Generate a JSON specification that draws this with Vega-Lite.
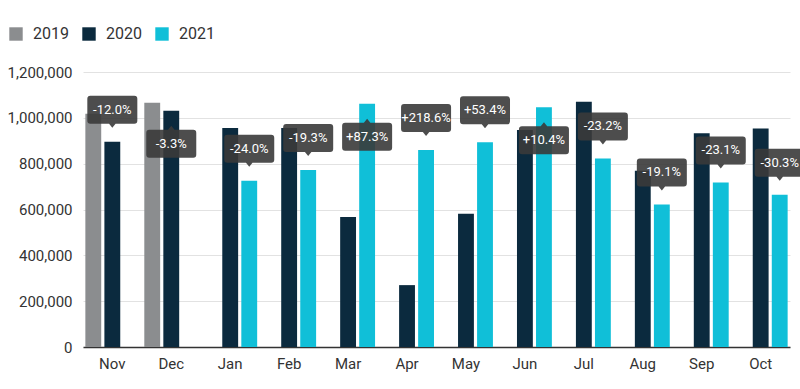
{
  "$schema": "https://vega.github.io/schema/vega-lite/v6.json",
  "width": 707,
  "height": 275,
  "autosize": {"type": "none"},
  "padding": {"left": 83, "top": 72, "right": 10, "bottom": 42},
  "background": "white",
  "config": {
    "font": "Roboto",
    "view": {"stroke": null}
  },
  "data": {
    "values": [
      {"month": "Nov", "year": "2019", "value": 1018000},
      {"month": "Nov", "year": "2020", "value": 896000, "label": "-12.0%"},
      {"month": "Dec", "year": "2019", "value": 1066000},
      {"month": "Dec", "year": "2020", "value": 1031000, "label": "-3.3%"},
      {"month": "Jan", "year": "2020", "value": 956000},
      {"month": "Jan", "year": "2021", "value": 726000, "label": "-24.0%"},
      {"month": "Feb", "year": "2020", "value": 956000},
      {"month": "Feb", "year": "2021", "value": 772000, "label": "-19.3%"},
      {"month": "Mar", "year": "2020", "value": 567000},
      {"month": "Mar", "year": "2021", "value": 1062000, "label": "+87.3%"},
      {"month": "Apr", "year": "2020", "value": 270000},
      {"month": "Apr", "year": "2021", "value": 860000, "label": "+218.6%"},
      {"month": "May", "year": "2020", "value": 582000},
      {"month": "May", "year": "2021", "value": 893000, "label": "+53.4%"},
      {"month": "Jun", "year": "2020", "value": 947000},
      {"month": "Jun", "year": "2021", "value": 1046000, "label": "+10.4%"},
      {"month": "Jul", "year": "2020", "value": 1070000},
      {"month": "Jul", "year": "2021", "value": 823000, "label": "-23.2%"},
      {"month": "Aug", "year": "2020", "value": 769000},
      {"month": "Aug", "year": "2021", "value": 622000, "label": "-19.1%"},
      {"month": "Sep", "year": "2020", "value": 933000},
      {"month": "Sep", "year": "2021", "value": 718000, "label": "-23.1%"},
      {"month": "Oct", "year": "2020", "value": 954000},
      {"month": "Oct", "year": "2021", "value": 664000, "label": "-30.3%"}
    ]
  },
  "encoding": {
    "x": {
      "field": "month",
      "type": "nominal",
      "sort": ["Nov", "Dec", "Jan", "Feb", "Mar", "Apr", "May", "Jun", "Jul", "Aug", "Sep", "Oct"],
      "scale": {"paddingInner": 0.085, "paddingOuter": 0.04},
      "axis": {
        "title": null,
        "labelAngle": 0,
        "ticks": false,
        "domainColor": "#333333",
        "domainWidth": 1.5,
        "labelFontSize": 15,
        "labelColor": "#333333",
        "labelPadding": 9
      }
    },
    "xOffset": {
      "field": "year",
      "type": "nominal",
      "sort": ["2019", "2020", "2021"],
      "scale": {"paddingInner": 0.167, "paddingOuter": 0}
    },
    "y": {
      "field": "value",
      "type": "quantitative",
      "scale": {"domain": [0, 1200000]},
      "axis": {
        "title": null,
        "values": [0, 200000, 400000, 600000, 800000, 1000000, 1200000],
        "format": ",d",
        "domain": false,
        "ticks": false,
        "gridColor": "#e2e2e2",
        "labelFontSize": 15,
        "labelColor": "#333333",
        "labelPadding": 11
      }
    }
  },
  "layer": [
    {
      "mark": {"type": "bar"},
      "encoding": {
        "color": {
          "field": "year",
          "type": "nominal",
          "scale": {"domain": ["2019", "2020", "2021"], "range": ["#8b8d8f", "#0b2a3e", "#10bfd8"]},
          "legend": {
            "title": null,
            "orient": "none",
            "legendX": -75,
            "legendY": -46,
            "direction": "horizontal",
            "symbolType": "square",
            "symbolSize": 180,
            "symbolStrokeWidth": 0,
            "labelFontSize": 16,
            "labelColor": "#333333",
            "labelOffset": 9,
            "columnPadding": 12
          }
        }
      }
    },
    {
      "transform": [{"filter": "isValid(datum.label) && datum.value <= 1000000"}],
      "mark": {
        "type": "point",
        "shape": "M-0.88,-0.56H0.88Q1,-0.56 1,-0.44V0.44Q1,0.56 0.88,0.56H0.13L0,0.72L-0.13,0.56H-0.88Q-1,0.56 -1,0.44V-0.44Q-1,-0.56 -0.88,-0.56Z",
        "size": 2500,
        "filled": true,
        "color": "#3a3a3a",
        "opacity": 0.9,
        "strokeWidth": 0,
        "yOffset": -32
      }
    },
    {
      "transform": [{"filter": "isValid(datum.label) && datum.value > 1000000"}],
      "mark": {
        "type": "point",
        "shape": "M-0.88,-0.56H-0.13L0,-0.72L0.13,-0.56H0.88Q1,-0.56 1,-0.44V0.44Q1,0.56 0.88,0.56H-0.88Q-1,0.56 -1,0.44V-0.44Q-1,-0.56 -0.88,-0.56Z",
        "size": 2500,
        "filled": true,
        "color": "#3a3a3a",
        "opacity": 0.9,
        "strokeWidth": 0,
        "yOffset": 33
      }
    },
    {
      "transform": [{"filter": "isValid(datum.label) && datum.value <= 1000000"}],
      "mark": {"type": "text", "color": "white", "fontSize": 13, "baseline": "middle", "align": "center", "yOffset": -32},
      "encoding": {"text": {"field": "label"}}
    },
    {
      "transform": [{"filter": "isValid(datum.label) && datum.value > 1000000"}],
      "mark": {"type": "text", "color": "white", "fontSize": 13, "baseline": "middle", "align": "center", "yOffset": 33},
      "encoding": {"text": {"field": "label"}}
    }
  ]
}
